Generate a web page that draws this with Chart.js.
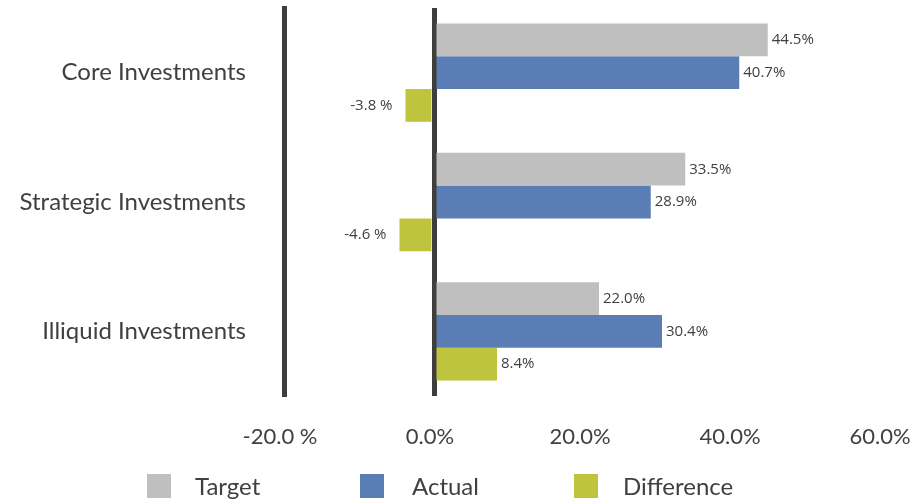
<!DOCTYPE html>
<html>
<head>
<meta charset="utf-8">
<script src="https://cdn.jsdelivr.net/npm/chart.js@4.4.1/dist/chart.umd.min.js"></script>
<style>
  body { margin: 0; background: #fff; }
  #wrap { position: relative; width: 917px; height: 500px; }
  #legend { position: absolute; left: 0; top: 474px; width: 917px; height: 26px; font-family: Lato, sans-serif; font-size: 24px; color: #404040; }
  .item { position: absolute; top: 0; display: flex; align-items: center; line-height: 24px; }
  .box { width: 24px; height: 24px; }
</style>
</head>
<body>
<div id="wrap">
  <canvas id="chart" width="917" height="500"></canvas>
  <div id="legend"></div>
</div>
<script>
// chart data
const categories = ['Core Investments', 'Strategic Investments', 'Illiquid Investments'];
const seriesNames = ['Target', 'Actual', 'Difference'];
const target = [44.5, 33.5, 22.0];
const actual = [40.7, 28.9, 30.4];
const difference = [-3.8, -4.6, 8.4];
const xTicks = [-20, 0, 20, 40, 60];

const colors = ['#bfbfbf', '#5b7db6', '#bfc43e'];
const lineColor = '#3f3e3a';

function pct(v) {
    return v < 0 ? v.toFixed(1) + ' %' : v.toFixed(1) + '%';
}

// value labels next to each bar
const barLabels = {
    id: 'barLabels',
    afterDatasetsDraw(chart) {
        const ctx = chart.ctx;
        ctx.save();
        ctx.font = '15px "Open Sans", sans-serif';
        ctx.fillStyle = '#404040';
        ctx.textBaseline = 'middle';
        chart.data.datasets.forEach((ds, i) => {
            chart.getDatasetMeta(i).data.forEach((bar, j) => {
                const v = ds.data[j];
                if (v < 0) {
                    ctx.textAlign = 'right';
                    ctx.fillText(pct(v), bar.x - 13, bar.y);
                } else {
                    ctx.textAlign = 'left';
                    ctx.fillText(pct(v), bar.x + 4, bar.y);
                }
            });
        });
        ctx.restore();
    }
};

const ctx = document.getElementById('chart').getContext('2d');
new Chart(ctx, {
    type: 'bar',
    data: {
        labels: categories,
        datasets: [
            { label: seriesNames[0], data: target, backgroundColor: colors[0] },
            { label: seriesNames[1], data: actual, backgroundColor: colors[1] },
            { label: seriesNames[2], data: difference, backgroundColor: colors[2] }
        ]
    },
    options: {
        indexAxis: 'y',
        responsive: false,
        animation: false,
        layout: { padding: { top: 8, right: 33, left: 0, bottom: 0 } },
        datasets: { bar: { barPercentage: 1, categoryPercentage: 0.76 } },
        plugins: { legend: { display: false }, tooltip: { enabled: false } },
        scales: {
            x: {
                min: -20,
                max: 60,
                afterBuildTicks: s => { s.ticks = xTicks.map(v => ({ value: v })); },
                afterFit: s => { s.height = 104; s.paddingLeft = 0; s.paddingRight = 0; },
                border: { display: false },
                grid: {
                    drawTicks: false,
                    lineWidth: 5,
                    color: c => (c.tick && c.tick.value === 0) ? lineColor : 'rgba(0,0,0,0)'
                },
                ticks: {
                    padding: 28,
                    labelOffset: -4,
                    color: '#404040',
                    font: { family: 'Lato', size: 22 },
                    callback: v => pct(v)
                }
            },
            y: {
                afterFit: s => { s.width = 284; s.paddingTop = 0; s.paddingBottom = 0; },
                border: { display: true, color: lineColor, width: 5 },
                grid: { display: false, drawTicks: false },
                ticks: {
                    padding: 38,
                    color: '#404040',
                    font: { family: 'Lato', size: 24 }
                }
            }
        }
    },
    plugins: [barLabels]
});

// legend below the axis
const legendX = [147, 360, 574];
const legendGap = [24, 28, 25];
const legend = document.getElementById('legend');
seriesNames.forEach((name, i) => {
    const item = document.createElement('div');
    item.className = 'item';
    item.style.left = legendX[i] + 'px';
    item.innerHTML = '<span class="box" style="background:' + colors[i] + ';margin-right:' + legendGap[i] + 'px"></span><span>' + name + '</span>';
    legend.appendChild(item);
});
</script>
</body>
</html>
